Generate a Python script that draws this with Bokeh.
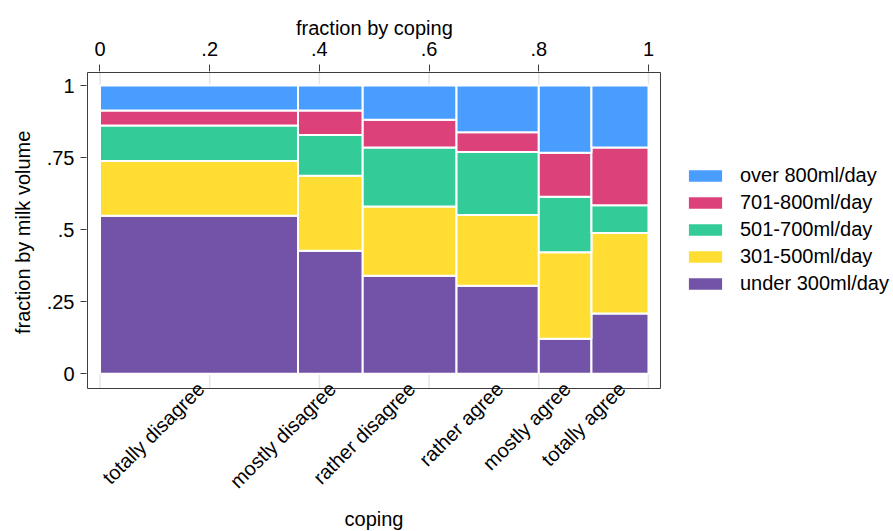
import numpy as np
from math import pi
from bokeh.plotting import figure
from bokeh.models import (FixedTicker, Range1d, ColumnDataSource, Legend,
                          LegendItem, Title)
from bokeh.core.properties import value
from bokeh.embed import file_html
from bokeh.resources import INLINE

# ---- data ----
categories = ["totally disagree", "mostly disagree", "rather disagree",
              "rather agree", "mostly agree", "totally agree"]
coping_share = [0.361, 0.118, 0.171, 0.150, 0.096, 0.104]

series = ["under 300ml/day", "301-500ml/day", "501-700ml/day",
          "701-800ml/day", "over 800ml/day"]
under_300 = [0.548, 0.427, 0.340, 0.305, 0.122, 0.209]
ml_301_500 = [0.190, 0.260, 0.240, 0.246, 0.300, 0.279]
ml_501_700 = [0.123, 0.141, 0.205, 0.218, 0.192, 0.097]
ml_701_800 = [0.052, 0.085, 0.096, 0.069, 0.153, 0.200]
over_800 = [0.087, 0.087, 0.119, 0.162, 0.233, 0.215]

top_ticks = [0.0, 0.2, 0.4, 0.6, 0.8, 1.0]
top_labels = ["0", ".2", ".4", ".6", ".8", "1"]
y_ticks = [0.0, 0.25, 0.5, 0.75, 1.0]
y_labels = ["0", ".25", ".5", ".75", "1"]

colors = ["#7353A7", "#FFDD33", "#33CC99", "#DD417A", "#489DFF"]

FONT = "Liberation Sans"
FS = "20px"
FRAME = "#3c3c3c"

# plot-region (box) limits and drawing area limits, in axis units
BOX_X = (-0.0228, 1.0219)
BOX_Y = (-0.0510, 1.0451)
AREA_X = (-0.0246, 1.4467)
AREA_Y = (-0.547, 1.0486)

# ---- derived geometry ----
w = np.array(coping_share, dtype=float)
w = w / w.sum()
right = np.cumsum(w)
left = right - w
mid = (left + right) / 2

vals = np.array([under_300, ml_301_500, ml_501_700, ml_701_800, over_800], dtype=float)
vals = vals / vals.sum(axis=0)
tops = np.cumsum(vals, axis=0)
bots = tops - vals

p = figure(width=893, height=531, output_backend="svg", toolbar_location=None,
           x_range=Range1d(*AREA_X), y_range=Range1d(*AREA_Y),
           x_axis_location="above",
           min_border_left=86, min_border_right=0,
           min_border_top=71, min_border_bottom=0)
p.background_fill_color = "white"
p.border_fill_color = "white"
p.outline_line_color = None
p.xgrid.visible = False
p.ygrid.visible = False

# top title ("fraction by coping"), centred over the plot region
p.title.text = "fraction by coping"
p.title.align = "left"
p.title.offset = 209.5
p.title.standoff = 0
p.title.text_font = FONT
p.title.text_font_size = FS
p.title.text_font_style = "normal"
p.title.text_color = "black"

# vertical grid lines inside the plot region
p.segment(x0=top_ticks, x1=top_ticks, y0=[BOX_Y[0]] * len(top_ticks),
          y1=[BOX_Y[1]] * len(top_ticks), line_color="#e6e6e6", line_width=1.5,
          level="underlay")

renderers = []
for i in range(len(series)):
    src = ColumnDataSource(dict(left=left, right=right, bottom=bots[i], top=tops[i]))
    r = p.quad(left="left", right="right", bottom="bottom", top="top", source=src,
               fill_color=colors[i], line_color="white", line_width=2)
    renderers.append(r)

# frame of the plot region
p.quad(left=[BOX_X[0]], right=[BOX_X[1]], bottom=[BOX_Y[0]], top=[BOX_Y[1]],
       fill_color=None, line_color=FRAME, line_width=1)

# top axis
xa = p.xaxis[0]
xa.ticker = FixedTicker(ticks=top_ticks)
xa.major_label_overrides = dict(zip(top_ticks, top_labels))
xa.major_label_text_font = FONT
xa.major_label_text_font_size = FS
xa.major_label_text_color = "black"
xa.major_label_standoff = 9
xa.major_tick_out = 7
xa.major_tick_in = 0
xa.minor_tick_out = 0
xa.minor_tick_in = 0
xa.axis_line_color = None
xa.major_tick_line_color = FRAME

# left axis
ya = p.yaxis[0]
ya.ticker = FixedTicker(ticks=y_ticks)
ya.major_label_overrides = dict(zip(y_ticks, y_labels))
ya.major_label_text_font = FONT
ya.major_label_text_font_size = FS
ya.major_label_text_color = "black"
ya.major_label_standoff = 6
ya.major_label_orientation = "horizontal"
ya.major_tick_out = 6
ya.major_tick_in = 0
ya.minor_tick_out = 0
ya.minor_tick_in = 0
ya.axis_line_color = None
ya.major_tick_line_color = FRAME

# y title, centred on the plot region
p.add_layout(Title(text="fraction by milk volume", align="left", offset=197.5,
                   standoff=19, text_font=FONT, text_font_size=FS,
                   text_font_style="normal", text_color="black"), "left")

# category labels below the plot region, rotated 45 degrees
cat_src = ColumnDataSource(dict(x=mid, y=[BOX_Y[0]] * len(categories), text=categories))
p.text(x="x", y="y", text="text", source=cat_src, angle=pi / 4,
       text_align="right", text_baseline="middle", x_offset=2, y_offset=-3,
       text_font=value(FONT), text_font_size=value(FS), text_color="black")

# x axis title
p.text(x=[(BOX_X[0] + BOX_X[1]) / 2], y=[BOX_Y[0]], text=["coping"],
       text_align="center", text_baseline="alphabetic", y_offset=130,
       text_font=value(FONT), text_font_size=value(FS), text_color="black")

items = [LegendItem(label=series[i], renderers=[renderers[i]])
         for i in reversed(range(len(series)))]
legend = Legend(items=items, location=(597, 236), orientation="vertical",
                padding=0, margin=0, spacing=4,
                glyph_width=44, glyph_height=17, label_height=22,
                label_standoff=13, label_text_font=FONT,
                label_text_font_size=FS, label_text_color="black",
                border_line_color=None, background_fill_alpha=0)
p.add_layout(legend, "center")

open("out.html", "w").write(file_html(p, INLINE))
